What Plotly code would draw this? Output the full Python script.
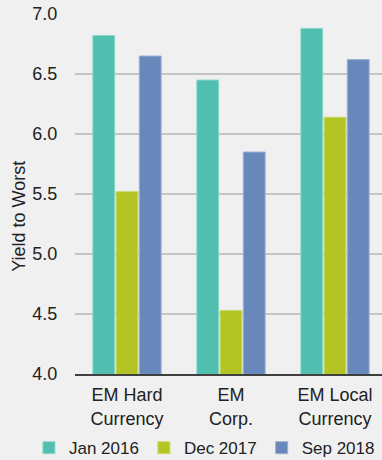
import plotly.graph_objects as go

categories = ["EM Hard<br>Currency", "EM<br>Corp.", "EM Local<br>Currency"]
series_names = ["Jan 2016", "Dec 2017", "Sep 2018"]
jan_2016 = [6.82, 6.45, 6.88]
dec_2017 = [5.52, 4.53, 6.14]
sep_2018 = [6.65, 5.85, 6.62]
y_ticks = [4.0, 4.5, 5.0, 5.5, 6.0, 6.5, 7.0]
y_tick_labels = ["4.0", "4.5", "5.0", "5.5", "6.0", "6.5", "7.0"]
y_title = "Yield to Worst"

colors = ["#50BFAF", "#B2C525", "#6888BB"]
edge_colors = ["#8ED6CC", "#CCDB6A", "#9AB0D4"]

font_family = "Liberation Sans, Arial, sans-serif"

fig = go.Figure()
for name, vals, c, ec in zip(series_names, [jan_2016, dec_2017, sep_2018], colors, edge_colors):
    fig.add_trace(go.Bar(
        x=list(range(len(categories))), y=vals, name=name,
        marker=dict(color=c, line=dict(color=ec, width=1)),
    ))

fig.update_layout(
    width=382, height=460,
    margin=dict(l=75, r=0, t=14, b=86, autoexpand=False),
    paper_bgcolor="#F0F0F0", plot_bgcolor="#F0F0F0",
    font=dict(family=font_family, size=18, color="#222222"),
    barmode="group", bargap=0.33, bargroupgap=0.06,
    showlegend=True,
    legend=dict(orientation="h", xref="paper", yref="paper",
                x=-0.15, xanchor="left", y=-0.206, yanchor="middle",
                font=dict(size=17), itemwidth=30, traceorder="normal",
                bgcolor="rgba(0,0,0,0)", borderwidth=0),
    annotations=[dict(text=y_title, textangle=-90, xref="paper", yref="paper",
                      x=-0.183, y=0.439, xanchor="center", yanchor="middle",
                      showarrow=False, font=dict(size=18, color="#222222"))],
)
fig.update_xaxes(
    range=[-0.5, 2.452], tickmode="array",
    tickvals=list(range(len(categories))), ticktext=categories,
    showline=True, linecolor="#404040", linewidth=1.5,
    showgrid=False, zeroline=False, ticks="outside", ticklen=4,
    tickcolor="rgba(0,0,0,0)", fixedrange=True, automargin=False,
)
fig.update_yaxes(
    range=[4.0, 7.0], tickmode="array", tickvals=y_ticks, ticktext=y_tick_labels,
    showgrid=True, gridcolor="#C4C4C4", gridwidth=2, zeroline=False,
    showline=False, ticks="outside", ticklen=13, tickcolor="rgba(0,0,0,0)",
    fixedrange=True, automargin=False,
)

fig.write_html("out.html")
